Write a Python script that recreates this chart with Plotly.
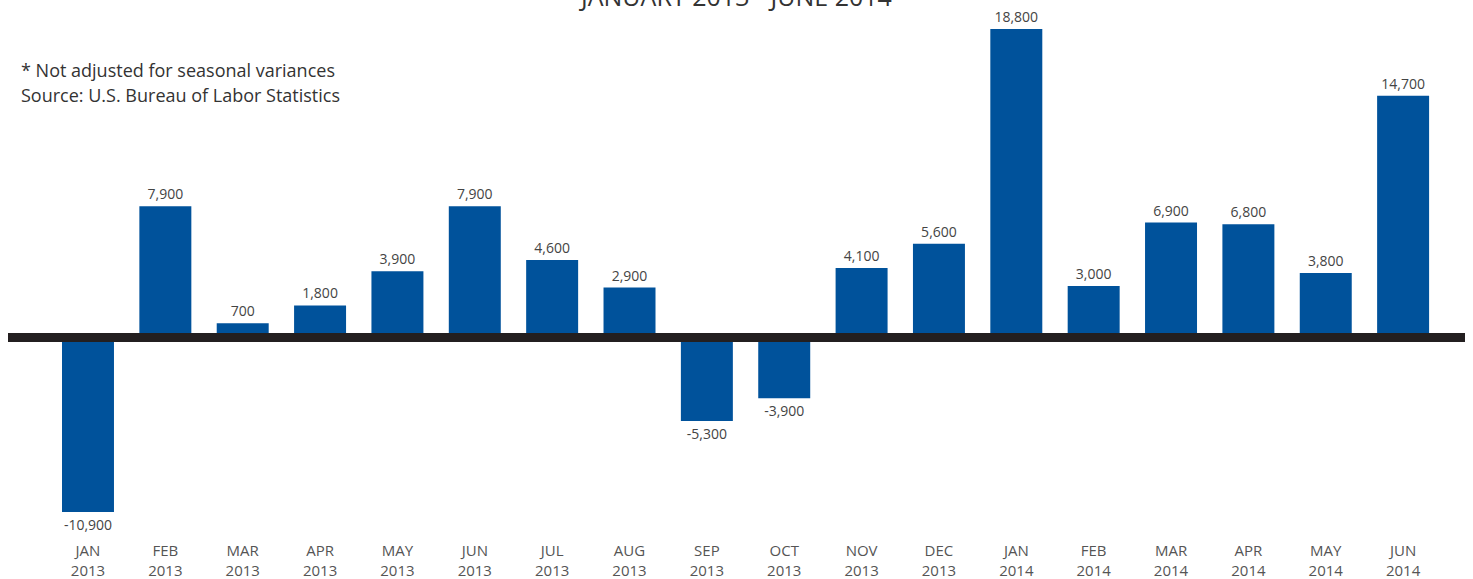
import plotly.graph_objects as go

months = ["JAN", "FEB", "MAR", "APR", "MAY", "JUN", "JUL", "AUG", "SEP",
          "OCT", "NOV", "DEC", "JAN", "FEB", "MAR", "APR", "MAY", "JUN"]
years = ["2013"] * 12 + ["2014"] * 6
values = [-10900, 7900, 700, 1800, 3900, 7900, 4600, 2900, -5300,
          -3900, 4100, 5600, 18800, 3000, 6900, 6800, 3800, 14700]

categories = [f"{m}<br>{y}" for m, y in zip(months, years)]
labels = [f"{v:,}" for v in values]

W, H = 1473, 579
ML, MR, MT, MB = 8, 8, 10, 49
plot_h = H - MT - MB
plot_w = W - ML - MR

def py(pix):
    return (H - MB - pix) / plot_h

def px(pix):
    return (pix - ML) / plot_w

fig = go.Figure()
fig.add_trace(go.Bar(
    x=list(range(len(values))),
    y=values,
    text=labels,
    textposition="outside",
    constraintext="none",
    cliponaxis=False,
    marker=dict(color="#00529b", line=dict(width=0)),
    outsidetextfont=dict(family="Open Sans", size=14, color="#444444"),
    hoverinfo="skip",
))

fig.add_shape(type="line", xref="paper", yref="paper", x0=0, x1=1,
              y0=py(337.5), y1=py(337.5),
              line=dict(color="#231f20", width=9), layer="above")

fig.add_annotation(text="JANUARY 2013 - JUNE 2014", xref="paper", yref="paper",
                   x=px(735), y=py(-4.5), xanchor="center", yanchor="middle",
                   showarrow=False, font=dict(family="Open Sans", size=25, color="#333333"))
fig.add_annotation(text="* Not adjusted for seasonal variances", xref="paper", yref="paper",
                   x=px(19), y=py(70), xanchor="left", yanchor="middle",
                   showarrow=False, font=dict(family="Open Sans", size=18, color="#333333"))
fig.add_annotation(text="Source: U.S. Bureau of Labor Statistics", xref="paper", yref="paper",
                   x=px(19), y=py(95), xanchor="left", yanchor="middle",
                   showarrow=False, font=dict(family="Open Sans", size=18, color="#333333"))

fig.update_layout(
    width=W, height=H,
    margin=dict(l=ML, r=MR, t=MT, b=MB, autoexpand=False),
    paper_bgcolor="white", plot_bgcolor="white",
    bargap=0.328,
    showlegend=False,
    xaxis=dict(
        tickmode="array", tickvals=list(range(len(values))), ticktext=categories,
        range=[-1.034, 17.80], showgrid=False, zeroline=False, showline=False,
        ticks="", ticklabelstandoff=10, automargin=False,
        tickfont=dict(family="Open Sans", size=15, color="#555555"),
    ),
    yaxis=dict(visible=False, range=[-12007, 19968], automargin=False),
)

fig.write_html("out.html", config={"displayModeBar": False},
               post_script="document.body.style.margin='0px';")
